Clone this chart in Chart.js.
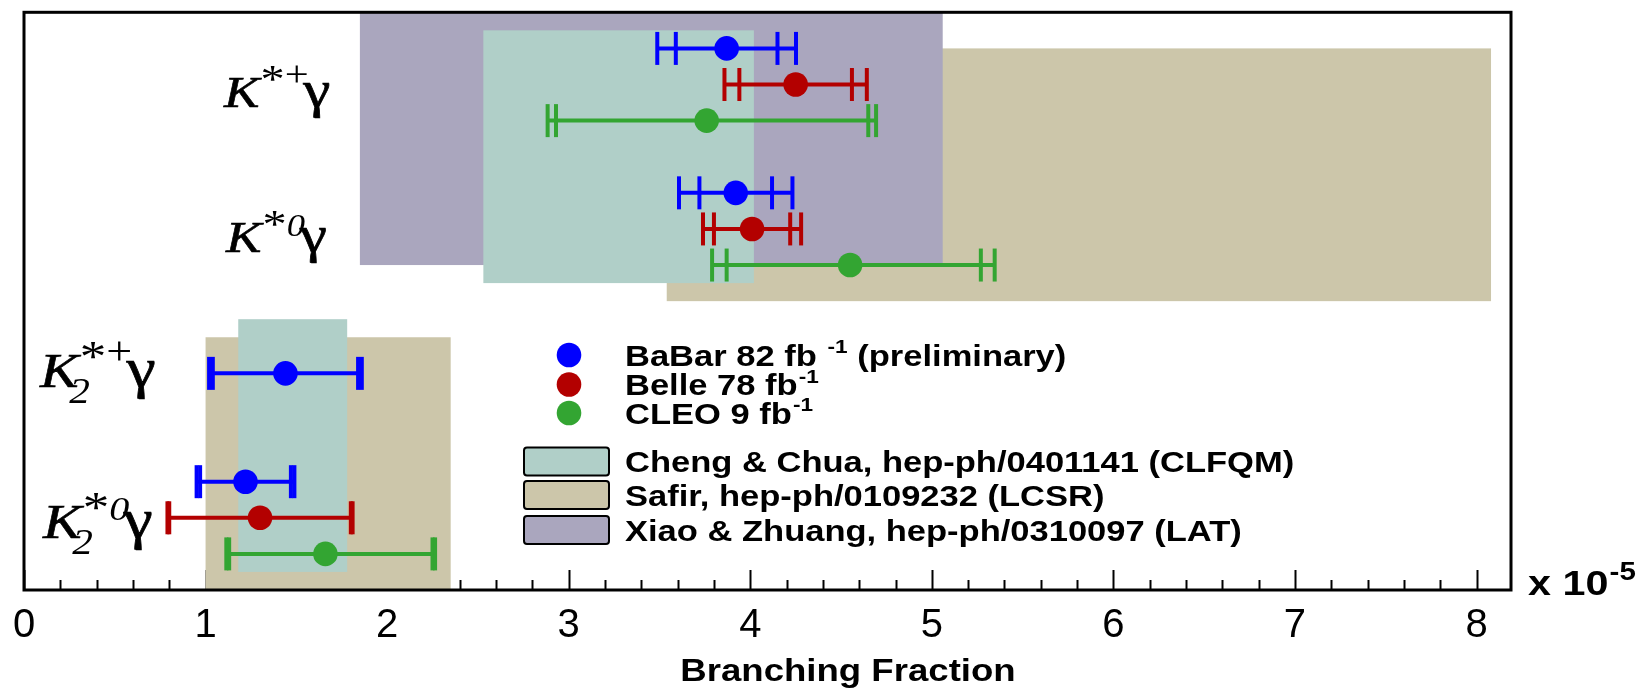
<!DOCTYPE html>
<html>
<head>
<meta charset="utf-8">
<script src="https://cdn.jsdelivr.net/npm/chart.js@4.4.0/dist/chart.umd.min.js"></script>
<style>
  html, body { margin: 0; padding: 0; background: #fff; }
  #wrap { width: 1652px; height: 688px; }
</style>
</head>
<body>
<div id="wrap"><canvas id="myChart" width="1652" height="688"></canvas></div>
<script>
// decays, top to bottom
var decays = ['K*+γ', 'K*0γ', 'K2*+γ', 'K2*0γ'];
var experiments = ['BaBar 82 fb ^-1 (preliminary)', 'Belle 78 fb^-1', 'CLEO 9 fb^-1'];

// branching fractions in units of 1e-5 (null = no measurement)
var babarVal  = [3.87, 3.92, 1.44, 1.22];
var babarStat = [0.28, 0.20, 0.40, 0.25];
var babarSyst = [0.26, 0.24, 0.13, 0.10];

var belleVal  = [4.25, 4.01, null, 1.30];
var belleStat = [0.31, 0.21, null, 0.50];
var belleSyst = [0.24, 0.17, null, 0.10];

var cleoVal    = [3.76, 4.55, null, 1.66];
var cleoStatLo = [0.83, 0.68, null, 0.53];
var cleoStatHi = [0.89, 0.72, null, 0.59];
var cleoSyst   = [0.28, 0.34, null, 0.13];

// theory predictions: [K*γ, K2*γ]
var models = ['Cheng & Chua, hep-ph/0401141 (CLFQM)', 'Safir, hep-ph/0109232 (LCSR)', 'Xiao & Zhuang, hep-ph/0310097 (LAT)'];
var chengLo = [2.53, 1.18], chengHi = [4.02, 1.78];
var safirLo = [3.54, 1.00], safirHi = [8.08, 2.35];
var xiaoLo  = [1.85, null], xiaoHi  = [5.06, null];

var xTicks = [0, 1, 2, 3, 4, 5, 6, 7, 8];

// row layout on the hidden y axis
var rowTop = [15, 11, 6, 3];       // BaBar row of each decay
var bandBase = [8, 0];             // bottom of band group K*γ / K2*γ
var bandOffset = [0.5, 0, 1];      // cheng, safir, xiao
var bandHeight = 7;

var colors = ['#0000ff', '#b30000', '#33a532'];
var bandColors = ['#b0cfc8', '#ccc6aa', '#aaa6be'];
var SX = 1.18; // reference text is drawn a little wide

var vals = [babarVal, belleVal, cleoVal];
var statLo = [babarStat, belleStat, cleoStatLo];
var statHi = [babarStat, belleStat, cleoStatHi];
var systs = [babarSyst, belleSyst, cleoSyst];
var bandLo = [chengLo, safirLo, xiaoLo];
var bandHi = [chengHi, safirHi, xiaoHi];

function points(v, e) {
  var pts = [];
  v.forEach(function (x, i) {
    if (x !== null) pts.push({ x: x, y: rowTop[i] - e });
  });
  return pts;
}

var SANS = '"Liberation Sans", Arial, sans-serif';
var SERIF = '"Liberation Serif", "Times New Roman", serif';

// text with "^sup" pieces, stretched horizontally
function richText(c, x, y, str, size, sx, supScale) {
  c.save();
  c.translate(x, y);
  c.scale(sx || SX, 1);
  c.textBaseline = 'alphabetic';
  c.textAlign = 'left';
  c.fillStyle = '#000';
  var pos = 0;
  var parts = str.split('^');
  parts.forEach(function (p, k) {
    var t = p, sup = null;
    if (k > 0) {
      var sp = p.indexOf(' ');
      sup = sp < 0 ? p : p.slice(0, sp);
      t = sp < 0 ? '' : p.slice(sp);
      c.font = 'bold ' + Math.round(size * (supScale || 0.64)) + 'px ' + SANS;
      c.fillText(sup, pos + 1, -size * 0.42);
      pos += c.measureText(sup).width + 1;
    }
    c.font = 'bold ' + size + 'px ' + SANS;
    c.fillText(t, pos, 0);
    pos += c.measureText(t).width;
  });
  c.restore();
}

function drawDecay(c, x, y, s, sup, sub) {
  c.save();
  c.translate(x, y);
  c.scale(SX, 1);
  c.fillStyle = '#000';
  c.strokeStyle = '#000';
  c.textBaseline = 'alphabetic';
  c.textAlign = 'left';
  c.font = 'italic ' + s + 'px ' + SERIF;
  c.fillText('K', 0, 0);
  c.lineWidth = 0.6;
  c.strokeText('K', 0, 0);
  var kx = c.measureText('K').width;
  var end = kx;
  if (sub) {
    c.font = 'italic ' + Math.round(s * 0.72) + 'px ' + SERIF;
    c.fillText(sub, kx - s * 0.16, s * 0.32);
    end = Math.max(end, kx - s * 0.16 + c.measureText(sub).width);
  }
  var px = kx + s * 0.02;
  c.font = Math.round(s * 0.92) + 'px ' + SERIF;
  c.fillText('*', px, -s * 0.33);
  px += c.measureText('*').width;
  c.font = (sup === '0' ? 'italic ' : '') + Math.round(s * (sup === '0' ? 0.7 : 0.8)) + 'px ' + SERIF;
  c.fillText(sup, px, sup === '0' ? -s * 0.36 : -s * 0.46);
  px += c.measureText(sup).width;
  end = Math.max(end, px);
  c.font = Math.round(s * 1.15) + 'px ' + SERIF;
  c.fillText('γ', end - s * 0.1, 0);
  c.lineWidth = 0.7;
  c.strokeText('γ', end - s * 0.1, 0);
  c.restore();
}

var physPlugin = {
  id: 'physPlugin',
  beforeDatasetsDraw: function (chart) {
    var c = chart.ctx, xs = chart.scales.x, ys = chart.scales.y, a = chart.chartArea;
    c.save();
    // ticks pointing into the plot
    c.strokeStyle = '#000';
    c.lineWidth = 2;
    for (var k = 0; k * 0.2 <= xs.max + 1e-9; k++) {
      var px = Math.round(xs.getPixelForValue(k * 0.2)) + 0.5;
      var len = (k % 5 === 0) ? 20 : 10;
      c.beginPath();
      c.moveTo(px, a.bottom);
      c.lineTo(px, a.bottom - len);
      c.stroke();
    }
    // theory bands: Safir, Xiao, then Cheng on top
    [1, 2, 0].forEach(function (m) {
      for (var g = 0; g < 2; g++) {
        if (bandLo[m][g] === null) continue;
        var x0 = xs.getPixelForValue(bandLo[m][g]);
        var x1 = xs.getPixelForValue(bandHi[m][g]);
        var y0 = ys.getPixelForValue(bandBase[g] + bandOffset[m] + bandHeight);
        var y1 = ys.getPixelForValue(bandBase[g] + bandOffset[m]);
        c.fillStyle = bandColors[m];
        c.fillRect(x0, y0, x1 - x0, y1 - y0);
      }
    });
    // frame
    c.lineWidth = 3;
    c.strokeStyle = '#000';
    c.strokeRect(a.left, a.top, a.right - a.left, a.bottom - a.top);
    // error bars: inner caps = stat, outer caps = total
    for (var e = 0; e < 3; e++) {
      for (var i = 0; i < decays.length; i++) {
        var v = vals[e][i];
        if (v === null) continue;
        var sl = statLo[e][i], sh = statHi[e][i], sy = systs[e][i];
        var tl = Math.sqrt(sl * sl + sy * sy), th = Math.sqrt(sh * sh + sy * sy);
        var py = ys.getPixelForValue(rowTop[i] - e);
        c.strokeStyle = colors[e];
        c.lineWidth = 4;
        c.beginPath();
        c.moveTo(xs.getPixelForValue(v - tl), py);
        c.lineTo(xs.getPixelForValue(v + th), py);
        c.stroke();
        [v - sl, v - tl, v + sh, v + th].forEach(function (cv) {
          var cx = xs.getPixelForValue(cv);
          c.beginPath();
          c.moveTo(cx, py - 16.5);
          c.lineTo(cx, py + 16.5);
          c.stroke();
        });
      }
    }
    c.restore();
  },
  afterDraw: function (chart) {
    var c = chart.ctx;
    // decay labels
    drawDecay(c, 224, 107, 45, '+', null);
    drawDecay(c, 226, 252, 45, '0', null);
    drawDecay(c, 40, 387, 49, '+', '2');
    drawDecay(c, 43, 538, 49, '0', '2');

    // legend
    var rowsY = [355, 384.5, 413];
    experiments.forEach(function (t, e) {
      c.beginPath();
      c.fillStyle = colors[e];
      c.arc(569, rowsY[e], 12.3, 0, Math.PI * 2);
      c.fill();
      richText(c, 625, rowsY[e] + 10.5, t, 29, 1.19);
    });
    var boxY = [461.5, 495, 530];
    models.forEach(function (t, m) {
      c.save();
      c.fillStyle = bandColors[m];
      c.strokeStyle = '#000';
      c.lineWidth = 2;
      c.beginPath();
      c.roundRect(524, boxY[m] - 14, 85, 28, 3);
      c.fill();
      c.stroke();
      c.restore();
      richText(c, 625, boxY[m] + 10.5, t, 29, 1.19);
    });

    // axis title and exponent
    c.save();
    c.translate(848, 681);
    c.scale(SX, 1);
    c.font = 'bold 31px ' + SANS;
    c.textAlign = 'center';
    c.fillStyle = '#000';
    c.fillText('Branching Fraction', 0, 0);
    c.restore();
    richText(c, 1528, 595, 'x 10^-5', 35, 1.18, 0.72);
  }
};

var ctx = document.getElementById('myChart').getContext('2d');
var myChart = new Chart(ctx, {
  type: 'scatter',
  data: {
    datasets: experiments.map(function (name, e) {
      return {
        label: name,
        data: points(vals[e], e),
        backgroundColor: colors[e],
        borderColor: colors[e],
        borderWidth: 0,
        pointRadius: 12.3,
        pointHoverRadius: 12.3
      };
    })
  },
  options: {
    responsive: false,
    animation: false,
    events: [],
    layout: { padding: { left: 24, top: 9, right: 141, bottom: 0 } },
    plugins: { legend: { display: false }, tooltip: { enabled: false } },
    scales: {
      x: {
        type: 'linear',
        min: 0,
        max: 8.19,
        afterFit: function (scale) { scale.height = 98; },
        afterBuildTicks: function (scale) {
          scale.ticks = xTicks.map(function (v) { return { value: v }; });
        },
        grid: { display: false, drawTicks: false },
        border: { display: false },
        ticks: {
          color: '#000',
          padding: 12,
          maxRotation: 0,
          autoSkip: false,
          font: { family: '"Liberation Sans Narrow", "Liberation Sans"', size: 40 }
        }
      },
      y: { type: 'linear', min: 0, max: 16, display: false }
    }
  },
  plugins: [physPlugin]
});
</script>
</body>
</html>
